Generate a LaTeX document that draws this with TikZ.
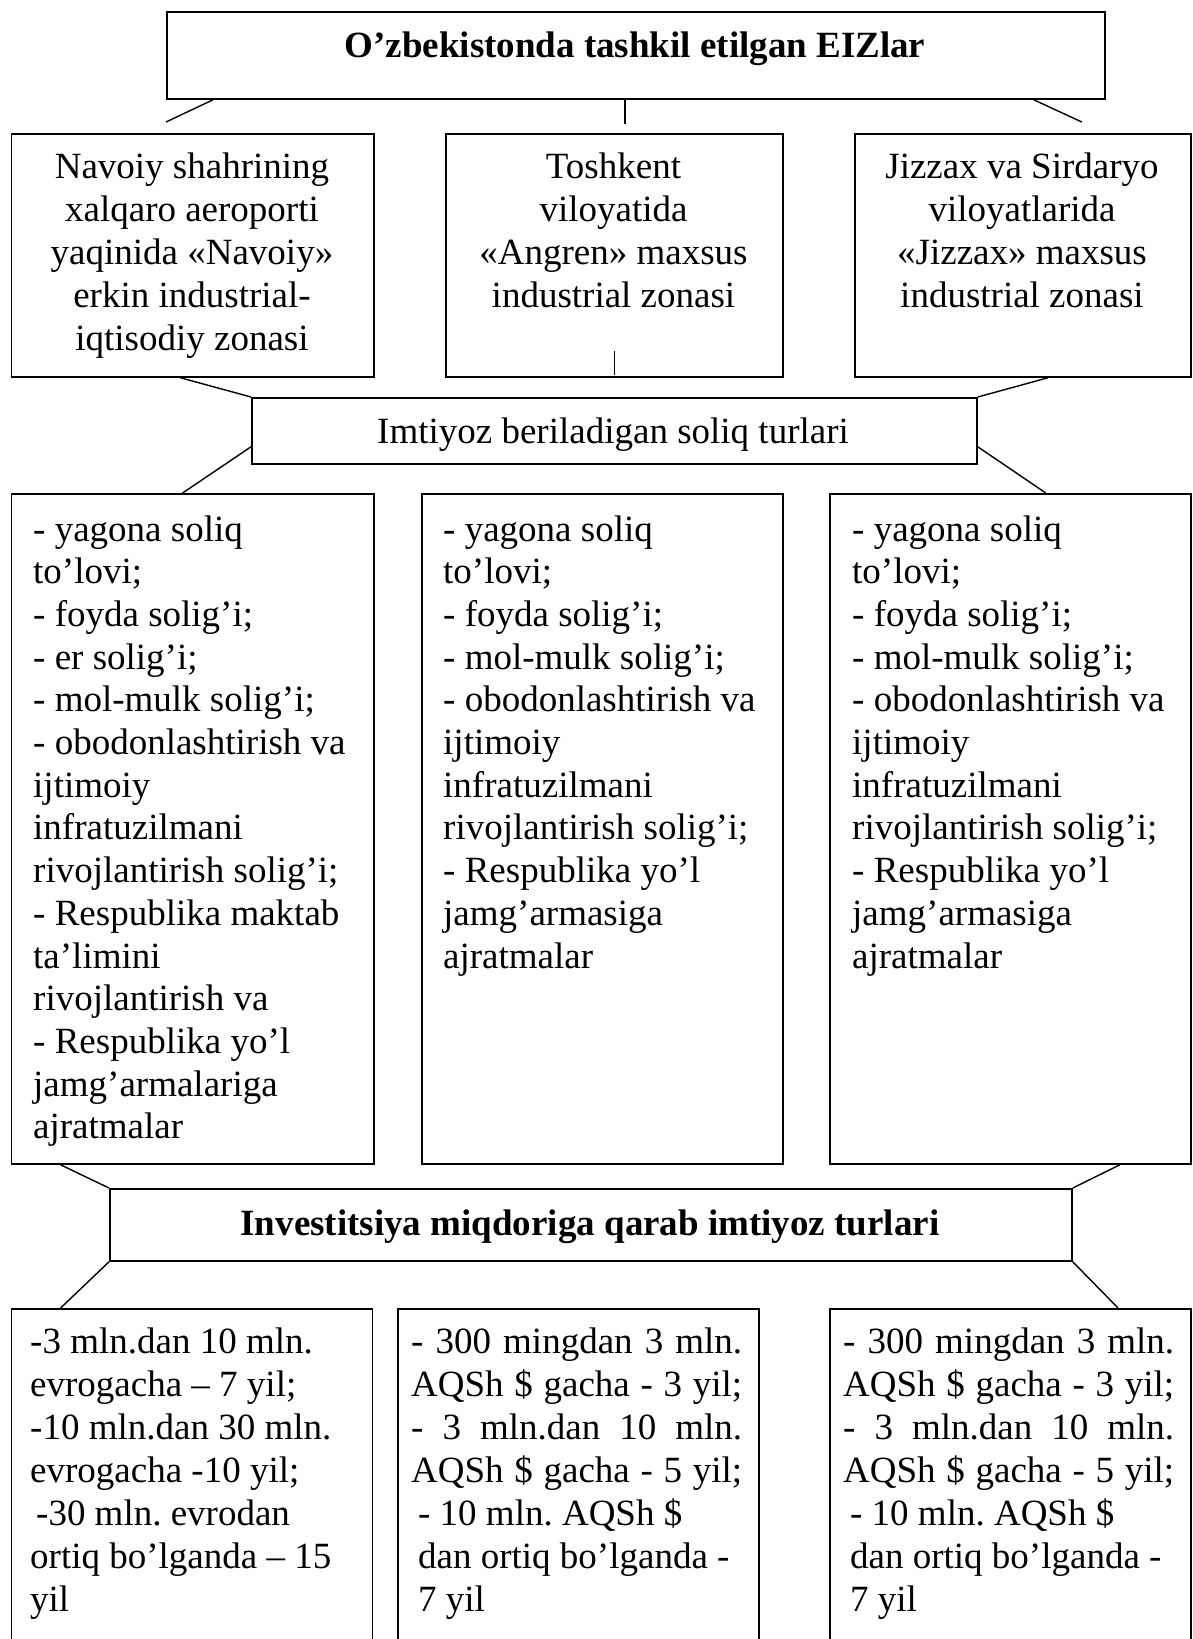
\documentclass[tikz,border=0pt]{standalone}
\usepackage{fontspec}
\setmainfont{Liberation Serif}
\usetikzlibrary{calc}
\frenchspacing
\begin{document}
\begin{tikzpicture}[x=1pt,y=-1pt,
  box/.style={draw, line width=1.8pt, inner sep=0pt, anchor=north west},
  link/.style={line width=1.4pt},
  body/.style={inner sep=0pt, font=\fontsize{37}{43}\selectfont},
  bodytwo/.style={inner sep=0pt, font=\fontsize{37}{42.7}\selectfont},
  head/.style={inner sep=0pt, anchor=base, font=\fontsize{37}{43}\selectfont}]
\clip (0,0) rectangle (1192,1639);
\fill[white] (0,0) rectangle (1192,1639);

% boxes
\node[box, minimum width=938pt, minimum height=87pt] (top) at (166,11) {};
\node[box, minimum width=362.4pt, minimum height=243pt] (r1a) at (10.6,133) {};
\node[box, minimum width=337pt, minimum height=243pt] (r1b) at (445,133) {};
\node[box, minimum width=336pt, minimum height=243pt] (r1c) at (854,133) {};
\node[box, minimum width=725pt, minimum height=66pt] (mid) at (251,397) {};
\node[box, minimum width=362.4pt, minimum height=670pt] (r2a) at (10.6,493) {};
\node[box, minimum width=361pt, minimum height=670pt] (r2b) at (421,493) {};
\node[box, minimum width=361pt, minimum height=670pt] (r2c) at (829,493) {};
\node[box, minimum width=962pt, minimum height=72pt] (inv) at (109,1188) {};
\node[box, minimum width=361pt, minimum height=400pt] (r3a) at (10.6,1308) {};
\node[box, minimum width=361pt, minimum height=400pt] (r3b) at (397,1308) {};
\node[box, minimum width=361pt, minimum height=400pt] (r3c) at (829,1308) {};

% connectors
\draw[link] ($(top.south west)+(47,0)$) -- ($(r1a.north west)+(155.4,-11)$);
\draw[link] ($(top.south)+(-11,0)$) -- ++(0,24);
\draw[link] ($(top.south east)+(-72,0)$) -- ($(r1c.north east)+(-110,-11)$);
\draw[link] ($(r1b.south)+(0,-3)$) -- ++(0,-24);
\draw[link] ($(r1a.south west)+(170,0)$) -- (mid.north west);
\draw[link] ($(r1c.south east)+(-144,0)$) -- (mid.north east);
\draw[link] ($(mid.south west)+(0,-18)$) -- ($(r2a.north west)+(172,0)$);
\draw[link] ($(mid.south east)+(0,-18)$) -- ($(r2c.north east)+(-146,0)$);
\draw[link] ($(r2a.south west)+(50,0)$) -- (inv.north west);
\draw[link] ($(r2c.south east)+(-72,0)$) -- (inv.north east);
\draw[link] (inv.south west) -- ($(r3a.north west)+(50,0)$);
\draw[link] (inv.south east) -- ($(r3c.north west)+(289,0)$);

% headings
\node[head] (ttop) at (635,57) {\bfseries O’zbekistonda tashkil etilgan EIZlar};
\node[head] (tmid) at (613,443) {Imtiyoz beriladigan soliq turlari};
\node[head] (tinv) at (590,1235) {\bfseries Investitsiya miqdoriga qarab imtiyoz turlari};

% row 1
\node[body, anchor=base] (t1a) at (192,178) {\parbox[t]{350pt}{\centering
Navoiy shahrining\\ xalqaro aeroporti\\ yaqinida «Navoiy»\\ erkin industrial-\\ iqtisodiy zonasi}};
\node[body, anchor=base] (t1b) at (613.5,178) {\parbox[t]{330pt}{\centering
Toshkent\\ viloyatida\\ «Angren» maxsus\\ industrial zonasi}};
\node[body, anchor=base] (t1c) at (1022,178) {\parbox[t]{330pt}{\centering
Jizzax va Sirdaryo\\ viloyatlarida\\ «Jizzax» maxsus\\ industrial zonasi}};

% row 2
\node[bodytwo, anchor=base west] (t2a) at (33,541) {\parbox[t]{345pt}{\raggedright
- yagona soliq\\ to’lovi;\\ - foyda solig’i;\\ - er solig’i;\\ - mol-mulk solig’i;\\
- obodonlashtirish va\\ ijtimoiy\\ infratuzilmani\\ rivojlantirish solig’i;\\
- Respublika maktab\\ ta’limini\\ rivojlantirish va\\ - Respublika yo’l\\
jamg’armalariga\\ ajratmalar}};
\node[bodytwo, anchor=base west] (t2b) at (443,541) {\parbox[t]{345pt}{\raggedright
- yagona soliq\\ to’lovi;\\ - foyda solig’i;\\ - mol-mulk solig’i;\\
- obodonlashtirish va\\ ijtimoiy\\ infratuzilmani\\ rivojlantirish solig’i;\\
- Respublika yo’l\\ jamg’armasiga\\ ajratmalar}};
\node[bodytwo, anchor=base west] (t2c) at (852,541) {\parbox[t]{345pt}{\raggedright
- yagona soliq\\ to’lovi;\\ - foyda solig’i;\\ - mol-mulk solig’i;\\
- obodonlashtirish va\\ ijtimoiy\\ infratuzilmani\\ rivojlantirish solig’i;\\
- Respublika yo’l\\ jamg’armasiga\\ ajratmalar}};

% row 3
\node[body, anchor=base west] (t3a) at (30,1353) {\parbox[t]{340pt}{\raggedright
-3 mln.dan 10 mln.\\ evrogacha – 7 yil;\\ -10 mln.dan 30 mln.\\ evrogacha -10 yil;\\
\hspace*{6pt}-30 mln. evrodan\\ ortiq bo’lganda – 15\\ yil}};
\node[body, anchor=base west] (t3b) at (411,1353) {\parbox[t]{331pt}{\raggedright
\makebox[331pt][s]{- 300 mingdan 3 mln.}\\
\makebox[331pt][s]{AQSh \$ gacha - 3 yil;}\\
\makebox[331pt][s]{- 3 mln.dan 10 mln.}\\
\makebox[331pt][s]{AQSh \$ gacha - 5 yil;}\\
\hspace*{7pt}- 10 mln. AQSh \$\\ \hspace*{7pt}dan ortiq bo’lganda -\\ \hspace*{7pt}7 yil}};
\node[body, anchor=base west] (t3c) at (843,1353) {\parbox[t]{331pt}{\raggedright
\makebox[331pt][s]{- 300 mingdan 3 mln.}\\
\makebox[331pt][s]{AQSh \$ gacha - 3 yil;}\\
\makebox[331pt][s]{- 3 mln.dan 10 mln.}\\
\makebox[331pt][s]{AQSh \$ gacha - 5 yil;}\\
\hspace*{7pt}- 10 mln. AQSh \$\\ \hspace*{7pt}dan ortiq bo’lganda -\\ \hspace*{7pt}7 yil}};
\end{tikzpicture}
\end{document}
